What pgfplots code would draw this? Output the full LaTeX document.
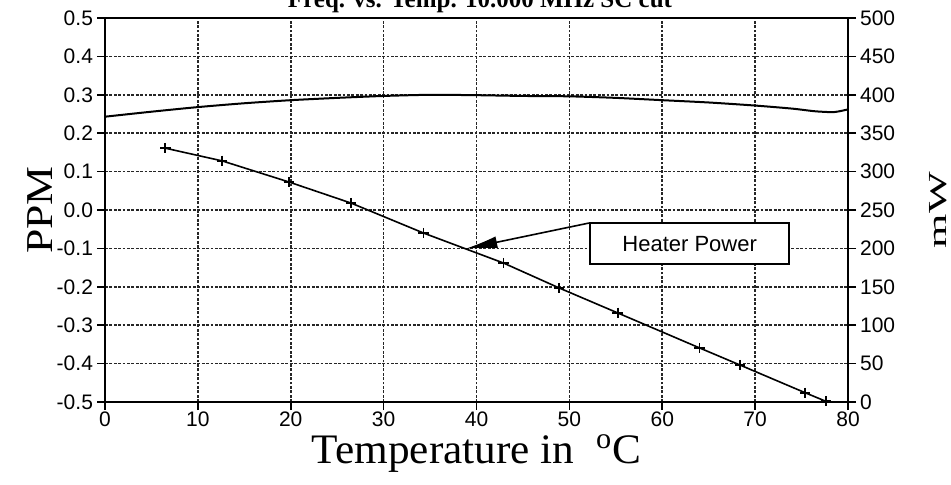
\documentclass[border=0pt]{standalone}
\usepackage{pgfplots}
\pgfplotsset{compat=1.18}
\usepackage{fontspec}
\setmainfont{Liberation Serif}
\newfontfamily\arial{Liberation Sans}
\usetikzlibrary{arrows.meta}
\begin{document}
\begin{tikzpicture}
\pgfplotsset{
  common/.style={
    at={(52.5pt,41pt)}, anchor=south west,
    scale only axis, width=371.5pt, height=192pt,
    xmin=0, xmax=80,
    axis line style={line width=1pt},
    every tick/.style={black, line width=0.8pt},
    major tick length=4pt,
    tick align=outside,
    tick label style={font=\arial\fontsize{10.5}{11}\selectfont},
    /pgf/number format/assume math mode=true,
  }
}
\begin{axis}[common,
  ymin=-0.5, ymax=0.5,
  xtick={0,10,20,30,40,50,60,70,80},
  ytick={-0.5,-0.4,-0.3,-0.2,-0.1,0,0.1,0.2,0.3,0.4,0.5},
  xtick pos=bottom, ytick pos=left,
  yticklabel style={xshift=1.5pt, /pgf/number format/fixed, /pgf/number format/fixed zerofill, /pgf/number format/precision=1},
  xticklabel style={yshift=2.5pt},
  grid=major,
  grid style={black!85, dash pattern=on 1.4pt off 0.8pt, line width=0.8pt},
  xlabel={\scalebox{1.03}[1]{Temperature in \ \textsuperscript{o}C}},
  ylabel={\scalebox{1.15}[1]{PPM}},
  every axis x label/.style={at={(axis description cs:0.5,-0.159)}, anchor=base, font=\fontsize{21}{24}\selectfont},
  every axis y label/.style={at={(axis description cs:-0.0875,0.5)}, anchor=center, rotate=90, font=\fontsize{19}{24}\selectfont},
]
\addplot[black, line width=1pt, smooth, tension=0.4] coordinates {
(0,0.243)(5,0.256)(10,0.268)(15,0.278)(20,0.286)(25,0.292)(30,0.297)(35,0.300)(40,0.299)(45,0.297)(50,0.296)(55,0.292)(60,0.286)(65,0.280)(70,0.272)(74,0.264)(76.5,0.257)(78.5,0.255)(80,0.262)};
\end{axis}
\begin{axis}[common,
  ymin=0, ymax=500,
  axis x line=none,
  axis y line*=right,
  ytick={0,50,100,150,200,250,300,350,400,450,500},
  yticklabel style={xshift=-1.5pt},
  clip=false,
  ylabel={\scalebox{1.7}[1]{mW}},
  every axis y label/.style={at={(axis description cs:1.1215,0.5)}, anchor=center, rotate=90, font=\fontsize{13}{16}\selectfont},
]
\addplot[black, line width=0.8pt, mark=+, mark size=2.6pt, mark options={line width=0.9pt}] coordinates {
(6.5,330.5)(12.6,314)(19.8,286.5)(26.5,259)(34.3,220)(42.9,181)(48.9,148.5)(55.2,116)(64.0,70.5)(68.4,48)(75.4,12)(77.6,1)};
\draw[line width=0.8pt, -{Latex[length=16pt,width=6pt]}] (axis cs:52.1,233) -- (axis cs:38.8,199.5);
\draw[line width=1pt, fill=white] (axis cs:52.2,233) rectangle (axis cs:73.7,179.5);
\node[font=\arial\fontsize{11}{12}\selectfont] at (axis cs:62.95,206.2) {Heater Power};
\end{axis}
\node[anchor=base, font=\bfseries\fontsize{12.5}{14}\selectfont] at (240pt,238.5pt) {Freq. vs. Temp. 10.000 MHz SC cut};
\pgfresetboundingbox
\path[use as bounding box] (0,0) rectangle (475.5pt,242pt);
\end{tikzpicture}
\end{document}
